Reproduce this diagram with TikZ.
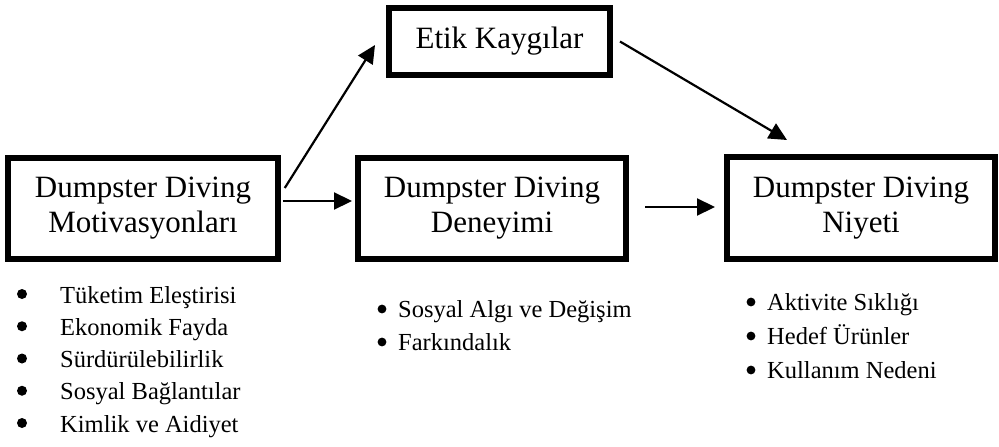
\documentclass[tikz,border=0pt]{standalone}
\usepackage{fontspec}
\setmainfont{Liberation Serif}
\usetikzlibrary{arrows.meta}
\tikzset{
  box/.style={draw, line width=6pt, inner sep=0pt, outer sep=0pt, align=center,
              font=\fontsize{31}{35}\selectfont},
  arr/.style={line width=2.2pt, -{Triangle[length=18pt,width=17pt]}},
  item/.style={anchor=base west, inner sep=0pt, font=\fontsize{24.5}{30}\selectfont},
}
\begin{document}
\begin{tikzpicture}[x=1pt,y=-1pt]
\useasboundingbox (0,0) rectangle (999,447);
% boxes
\node[box, minimum width=269.5pt, minimum height=101pt] (mot) at (143,208.5) {Dumpster Diving\\Motivasyonları};
\node[box, minimum width=221pt, minimum height=67pt] (etik) at (499.5,41.5) {Etik Kaygılar};
\node[box, minimum width=268pt, minimum height=101pt] (den) at (492,208.5) {Dumpster Diving\\Deneyimi};
\node[box, minimum width=268pt, minimum height=102pt] (niy) at (861,208) {Dumpster Diving\\Niyeti};
% arrows
\draw[arr] ([xshift=7pt,yshift=20.5pt]mot.east) -- ([xshift=-14pt,yshift=-3.5pt]etik.west);
\draw[arr] ([xshift=5pt,yshift=7.5pt]mot.east) -- ([xshift=-6pt,yshift=7.5pt]den.west);
\draw[arr] ([xshift=19pt,yshift=1.5pt]den.east) -- ([xshift=-12pt,yshift=1pt]niy.west);
\draw[arr] ([xshift=10pt]etik.east) -- ([xshift=-74pt,yshift=17pt]niy.north);
% left list
\foreach \y in {303,335.25,367.5,399.75,432} \fill (22,\y-9) circle (5pt);
\node[item] (l1) at (60,303) {Tüketim Eleştirisi};
\node[item] (l2) at (60,335.25) {Ekonomik Fayda};
\node[item] (l3) at (60,367.5) {Sürdürülebilirlik};
\node[item] (l4) at (60,399.75) {Sosyal Bağlantılar};
\node[item] (l5) at (60,432) {Kimlik ve Aidiyet};
% middle list
\foreach \y in {317,350} \fill (382,\y-8) circle (4.4pt);
\node[item] (m1) at (398,317) {Sosyal Algı ve Değişim};
\node[item] (m2) at (398,350) {Farkındalık};
% right list
\foreach \y in {310,344,378} \fill (751,\y-8) circle (4.4pt);
\node[item] (r1) at (767,310) {Aktivite Sıklığı};
\node[item] (r2) at (767,344) {Hedef Ürünler};
\node[item] (r3) at (767,378) {Kullanım Nedeni};
\end{tikzpicture}
\end{document}
